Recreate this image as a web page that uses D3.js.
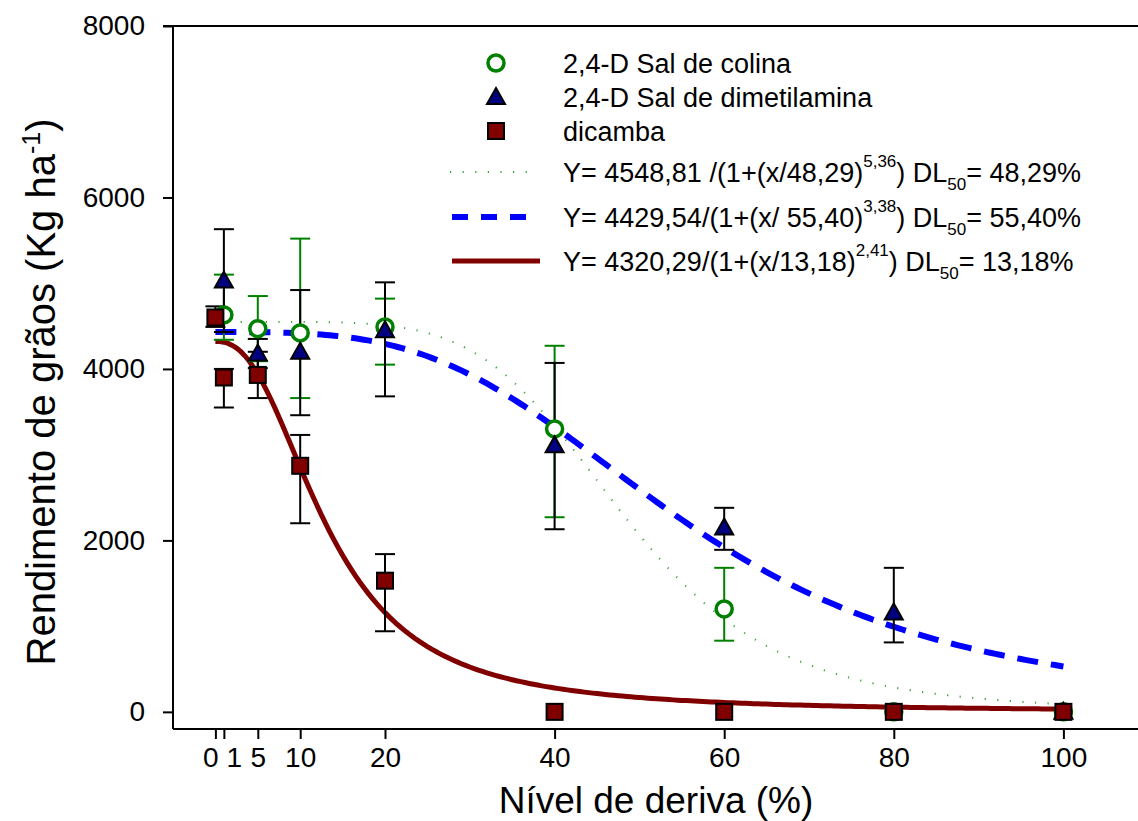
<!DOCTYPE html>
<html>
<head>
<meta charset="utf-8">
<script src="https://cdn.jsdelivr.net/npm/d3@7"></script>
<style>
  html, body { margin: 0; padding: 0; background: #fff; }
  svg { display: block; font-family: "Liberation Sans", Arial, sans-serif; }
</style>
</head>
<body>
<div id="chart"></div>
<script>
// tick positions on the x axis (drift level, %)
const xTicks = [0, 1, 5, 10, 20, 40, 60, 80, 100];
const yTicks = [0, 2000, 4000, 6000, 8000];

// 2,4-D Sal de colina
const colinaX  = [1, 5, 10, 20, 40, 60, 80, 100];
const colinaY  = [4630, 4470, 4420, 4490, 3300, 1200, 0, 0];
const colinaLo = [4340, 4090, 3660, 4050, 2270, 830, 0, 0];
const colinaHi = [5100, 4850, 5520, 4820, 4270, 1680, 0, 0];

// 2,4-D Sal de dimetilamina
const dimetX  = [1, 5, 10, 20, 40, 60, 80, 100];
const dimetY  = [5030, 4180, 4200, 4450, 3110, 2150, 1160, 0];
const dimetLo = [4430, 4010, 3460, 3680, 2130, 1890, 810, 0];
const dimetHi = [5630, 4350, 4920, 5010, 4070, 2380, 1680, 0];

// dicamba
const dicambaX  = [0, 1, 5, 10, 20, 40, 60, 80, 100];
const dicambaY  = [4600, 3900, 3930, 2870, 1530, 0, 0, 0, 0];
const dicambaLo = [4490, 3550, 3660, 2200, 940, 0, 0, 0, 0];
const dicambaHi = [4730, 4000, 4200, 3230, 1840, 0, 0, 0, 0];

// fitted log-logistic models shown in the legend: [a, x50, b]
const fitColina  = [4548.81, 48.29, 5.36];
const fitDimet   = [4429.54, 55.40, 3.38];
const fitDicamba = [4320.29, 13.18, 2.41];

const width = 1138, height = 821;

const x = d3.scaleLinear().domain([-5, 110]).range([173, 173 + 115 * 8.48]);
const y = d3.scaleLinear().domain([-200, 8000]).range([729, 26]);

const svg = d3.select("#chart").append("svg")
    .attr("width", width)
    .attr("height", height);

// axes
const xAxis = svg.append("g")
    .attr("transform", `translate(0,${y(-200)})`)
    .call(d3.axisBottom(x).tickValues(xTicks).tickSize(10).tickPadding(8).tickFormat(d3.format("d")));
const yAxis = svg.append("g")
    .attr("transform", `translate(${x(-5)},0)`)
    .call(d3.axisLeft(y).tickValues(yTicks).tickSize(10).tickPadding(18).tickFormat(d3.format("d")));

[xAxis, yAxis].forEach(g => {
    g.select(".domain").attr("stroke", "#000").attr("stroke-width", 2);
    g.selectAll(".tick line").attr("stroke", "#000").attr("stroke-width", 2);
    g.selectAll(".tick text").attr("fill", "#000").style("font-size", "28px")
        .style("font-family", "Liberation Sans, Arial, sans-serif");
});
xAxis.select(".domain").attr("d", `M${x(-5)},0H${width}`);
yAxis.select(".domain").attr("d", `M0,${y(-200)}V${y(8000)}`);
// "0" and "1" sit close together: nudge them apart like the original
xAxis.selectAll(".tick text").attr("dx", d => d === 0 ? -5 : d === 1 ? 10 : 0);

// top frame line
svg.append("line")
    .attr("x1", x(-5) - 10).attr("x2", width)
    .attr("y1", y(8000)).attr("y2", y(8000))
    .attr("stroke", "#000").attr("stroke-width", 2);

// axis titles
svg.append("text")
    .attr("x", 656).attr("y", 813)
    .attr("text-anchor", "middle")
    .style("font-size", "37px")
    .text("Nível de deriva (%)");

const yTitle = svg.append("text")
    .attr("transform", `translate(55,392) rotate(-90)`)
    .attr("text-anchor", "middle")
    .style("font-size", "40px");
yTitle.append("tspan").text("Rendimento de grãos (Kg ha");
yTitle.append("tspan").attr("dy", -15).style("font-size", "25px").text("-1");
yTitle.append("tspan").attr("dy", 15).text(")");

// fitted curves
const model = p => v => p[0] / (1 + Math.pow(v / p[1], p[2]));
const curveX = d3.range(0, 100.01, 0.5);
const line = d3.line().x(d => x(d[0])).y(d => y(d[1]));

const curves = svg.append("g").attr("fill", "none");
curves.append("path")
    .attr("d", line(curveX.map(v => [v, model(fitColina)(v)])))
    .attr("stroke", "#3aa33a").attr("stroke-width", 2)
    .attr("stroke-dasharray", "1.2,11.4");
curves.append("path")
    .attr("d", line(curveX.map(v => [v, model(fitDimet)(v)])))
    .attr("stroke", "#0000ff").attr("stroke-width", 6)
    .attr("stroke-dasharray", "21,13");
curves.append("path")
    .attr("d", line(curveX.map(v => [v, model(fitDicamba)(v)])))
    .attr("stroke", "#800000").attr("stroke-width", 5);

// error bars
function errorBars(xs, lo, hi, color) {
    const g = svg.append("g").attr("stroke", color).attr("stroke-width", 2);
    xs.forEach((v, i) => {
        if (hi[i] === lo[i]) return;
        g.append("line").attr("x1", x(v)).attr("x2", x(v)).attr("y1", y(lo[i])).attr("y2", y(hi[i]));
        g.append("line").attr("x1", x(v) - 10).attr("x2", x(v) + 10).attr("y1", y(lo[i])).attr("y2", y(lo[i]));
        g.append("line").attr("x1", x(v) - 10).attr("x2", x(v) + 10).attr("y1", y(hi[i])).attr("y2", y(hi[i]));
    });
}
errorBars(colinaX, colinaLo, colinaHi, "#008000");
errorBars(dimetX, dimetLo, dimetHi, "#000");
errorBars(dicambaX, dicambaLo, dicambaHi, "#000");

// markers
const triPath = "M0,-9L9,7L-9,7Z";

function circles(g, xs, ys) {
    g.selectAll("circle").data(xs).join("circle")
        .attr("cx", (d) => x(d)).attr("cy", (d, i) => y(ys[i])).attr("r", 8)
        .attr("fill", "#fff").attr("stroke", "#008000").attr("stroke-width", 3.5);
}
function triangles(g, xs, ys) {
    g.selectAll("path").data(xs).join("path")
        .attr("d", triPath)
        .attr("transform", (d, i) => `translate(${x(d)},${y(ys[i])})`)
        .attr("fill", "#000080").attr("stroke", "#000").attr("stroke-width", 2);
}
function squares(g, xs, ys) {
    g.selectAll("rect").data(xs).join("rect")
        .attr("x", d => x(d) - 8).attr("y", (d, i) => y(ys[i]) - 8)
        .attr("width", 16).attr("height", 16)
        .attr("fill", "#800000").attr("stroke", "#000").attr("stroke-width", 2);
}
circles(svg.append("g"), colinaX, colinaY);
triangles(svg.append("g"), dimetX, dimetY);
squares(svg.append("g"), dicambaX, dicambaY);

// legend
const legend = svg.append("g").style("font-size", "27px");
const lx = 496, tx = 563;
const legendNames = ["2,4-D Sal de colina", "2,4-D Sal de dimetilamina", "dicamba"];
const legendRows = [63, 97, 131];

legend.append("circle").attr("cx", lx).attr("cy", legendRows[0]).attr("r", 8)
    .attr("fill", "#fff").attr("stroke", "#008000").attr("stroke-width", 3.5);
legend.append("path").attr("d", triPath).attr("transform", `translate(${lx},${legendRows[1]})`)
    .attr("fill", "#000080").attr("stroke", "#000").attr("stroke-width", 2);
legend.append("rect").attr("x", lx - 8).attr("y", legendRows[2] - 8).attr("width", 16).attr("height", 16)
    .attr("fill", "#800000").attr("stroke", "#000").attr("stroke-width", 2);
legendNames.forEach((n, i) => {
    legend.append("text").attr("x", tx).attr("y", legendRows[i]).attr("dy", "0.36em").text(n);
});

const eqRows = [172, 217, 261];
const eqPre = ["Y= 4548,81 /(1+(x/48,29)", "Y= 4429,54/(1+(x/ 55,40)", "Y= 4320,29/(1+(x/13,18)"];
const eqExp = ["5,36", "3,38", "2,41"];
const eqDl = ["= 48,29%", "= 55,40%", "= 13,18%"];

legend.append("line").attr("x1", 450).attr("x2", 530).attr("y1", eqRows[0]).attr("y2", eqRows[0])
    .attr("stroke", "#3aa33a").attr("stroke-width", 2).attr("stroke-dasharray", "1.2,11.4");
legend.append("line").attr("x1", 452).attr("x2", 526).attr("y1", eqRows[1]).attr("y2", eqRows[1])
    .attr("stroke", "#0000ff").attr("stroke-width", 6).attr("stroke-dasharray", "16,13");
legend.append("line").attr("x1", 452).attr("x2", 540).attr("y1", eqRows[2]).attr("y2", eqRows[2])
    .attr("stroke", "#800000").attr("stroke-width", 5);

eqPre.forEach((pre, i) => {
    const t = legend.append("text").attr("x", tx).attr("y", eqRows[i] + 10);
    t.append("tspan").text(pre);
    t.append("tspan").attr("dy", -15).style("font-size", "17px").text(eqExp[i]);
    t.append("tspan").attr("dy", 15).text(") DL");
    t.append("tspan").attr("dy", 8).style("font-size", "17px").text("50");
    t.append("tspan").attr("dy", -8).text(eqDl[i]);
});
</script>
</body>
</html>
